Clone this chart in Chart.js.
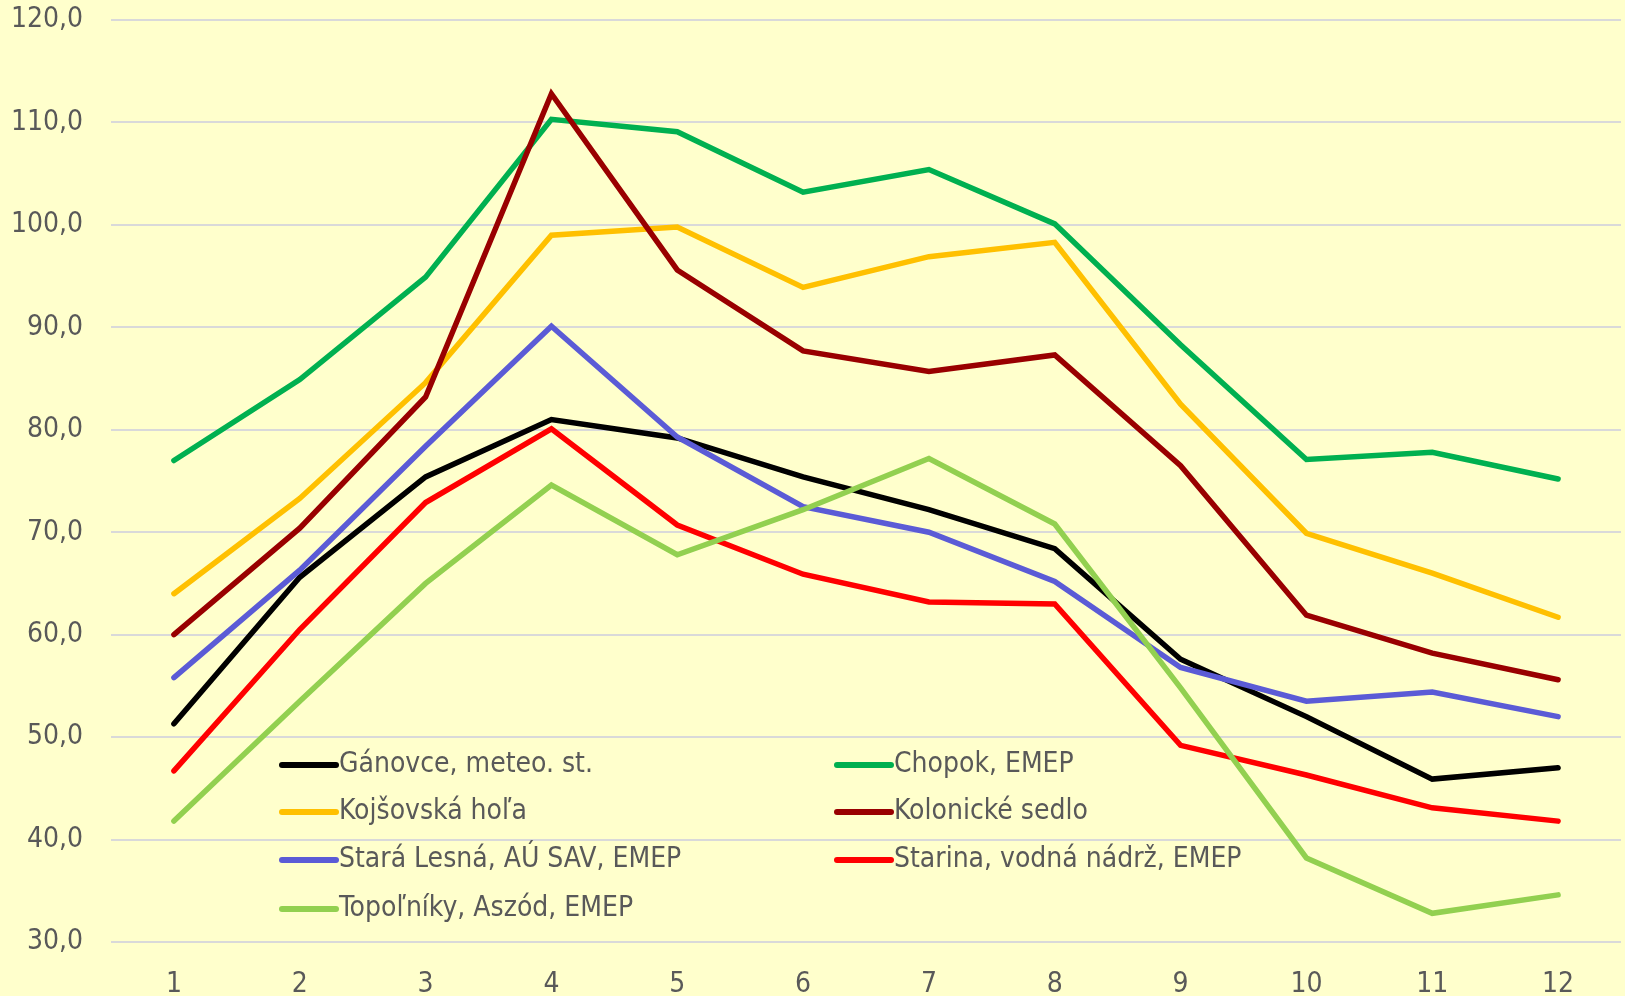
<!DOCTYPE html>
<html>
<head>
<meta charset="utf-8">
<script src="https://cdn.jsdelivr.net/npm/chart.js@4.4.1/dist/chart.umd.min.js"></script>
<style>
    html, body { margin: 0; padding: 0; background: #FFFFCC; }
    #wrap { width: 1625px; height: 996px; }
</style>
</head>
<body>
<div id="wrap"><canvas id="ozoneChart" width="1625" height="996"></canvas></div>
<script>
// Months on the x axis
const months = ['1', '2', '3', '4', '5', '6', '7', '8', '9', '10', '11', '12'];

// Station names (legend order)
const stations = [
    'Gánovce, meteo. st.',
    'Chopok, EMEP',
    'Kojšovská hoľa',
    'Kolonické sedlo',
    'Stará Lesná, AÚ SAV, EMEP',
    'Starina, vodná nádrž, EMEP',
    'Topoľníky, Aszód, EMEP'
];

// Monthly values per station
const ganovce    = [51.3, 65.6, 75.4, 81.0, 79.2, 75.4, 72.2, 68.4, 57.6, 52.0, 45.9, 47.0];
const chopok     = [77.0, 84.9, 94.9, 110.3, 109.1, 103.2, 105.4, 100.1, 88.3, 77.1, 77.8, 75.2];
const kojsovska  = [64.0, 73.3, 84.6, 99.0, 99.8, 93.9, 96.9, 98.3, 82.5, 69.9, 66.0, 61.7];
const kolonicke  = [60.0, 70.4, 83.2, 112.8, 95.6, 87.7, 85.7, 87.3, 76.5, 61.9, 58.2, 55.6];
const staraLesna = [55.8, 66.3, 78.4, 90.1, 79.3, 72.5, 70.0, 65.2, 56.8, 53.5, 54.4, 52.0];
const starina    = [46.7, 60.5, 72.9, 80.1, 70.7, 65.9, 63.2, 63.0, 49.2, 46.3, 43.1, 41.8];
const topolniky  = [41.8, 53.5, 65.0, 74.6, 67.8, 72.2, 77.2, 70.8, 54.8, 38.2, 32.8, 34.6];

const seriesValues = [ganovce, chopok, kojsovska, kolonicke, staraLesna, starina, topolniky];
const seriesColors = ['#000000', '#00B050', '#FFC000', '#990000', '#5B5BD6', '#FF0000', '#92D050'];

// Y axis range
const yMin = 30;
const yMax = 120;
const yStep = 10;

const FONT = "Tahoma, 'DejaVu Sans Condensed', 'Liberation Sans', sans-serif";
const TEXT_COLOR = '#595959';

// Legend drawn inside the plot, two columns like the original
const insideLegend = {
    id: 'insideLegend',
    afterDraw(chart) {
        const ctx = chart.ctx;
        const area = chart.chartArea;
        const colX = [area.left + 171, area.left + 726];
        const rowY = [area.top + 745, area.top + 792, area.top + 840, area.top + 889];
        ctx.save();
        ctx.font = '28px ' + FONT;
        ctx.textBaseline = 'middle';
        ctx.fillStyle = TEXT_COLOR;
        chart.data.datasets.forEach((ds, i) => {
            const x = colX[i % 2];
            const y = rowY[Math.floor(i / 2)];
            ctx.beginPath();
            ctx.strokeStyle = ds.borderColor;
            ctx.lineWidth = 6;
            ctx.lineCap = 'round';
            ctx.moveTo(x, y);
            ctx.lineTo(x + 54, y);
            ctx.stroke();
            ctx.fillText(ds.label, x + 57, y);
        });
        ctx.restore();
    }
};

document.addEventListener('DOMContentLoaded', function() {
    const ctx = document.getElementById('ozoneChart').getContext('2d');

    new Chart(ctx, {
        type: 'line',
        data: {
            labels: months,
            datasets: stations.map((name, i) => ({
                label: name,
                data: seriesValues[i],
                borderColor: seriesColors[i],
                backgroundColor: seriesColors[i],
                borderWidth: 5.5,
                borderCapStyle: 'round',
                pointRadius: 0,
                pointHoverRadius: 0,
                tension: 0,
                fill: false,
                order: stations.length - i
            }))
        },
        options: {
            responsive: false,
            animation: false,
            events: [],
            layout: {
                padding: { top: 20, right: 4, left: 0, bottom: 0 }
            },
            plugins: {
                legend: { display: false },
                tooltip: { enabled: false },
                title: { display: false }
            },
            scales: {
                x: {
                    offset: true,
                    grid: { display: false },
                    border: { display: false },
                    ticks: {
                        color: TEXT_COLOR,
                        font: { family: FONT, size: 28 },
                        padding: 18,
                        maxRotation: 0
                    },
                    afterFit(scale) {
                        scale.height = 54;
                        scale.paddingLeft = 0;
                        scale.paddingRight = 0;
                    }
                },
                y: {
                    min: yMin,
                    max: yMax,
                    grid: { color: '#D9D9D9', lineWidth: 2, drawTicks: false },
                    border: { display: false },
                    ticks: {
                        stepSize: yStep,
                        color: TEXT_COLOR,
                        font: { family: FONT, size: 28 },
                        padding: 28,
                        callback: v => v.toFixed(1).replace('.', ',')
                    },
                    afterFit(scale) {
                        scale.width = 111;
                        scale.paddingTop = 0;
                        scale.paddingBottom = 0;
                    }
                }
            }
        },
        plugins: [insideLegend]
    });
});
</script>
</body>
</html>
